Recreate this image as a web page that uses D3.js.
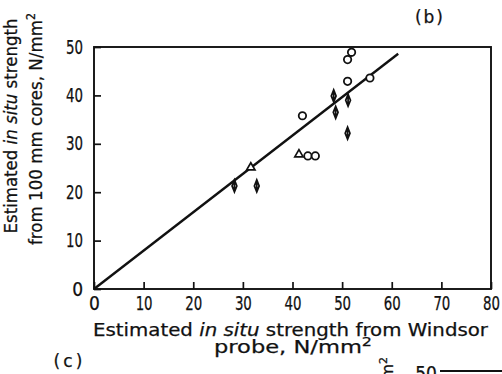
<!DOCTYPE html>
<html>
<head>
<meta charset="utf-8">
<script src="https://cdn.jsdelivr.net/npm/d3@7"></script>
<style>
  html, body { margin: 0; padding: 0; background: #fff; }
  svg { display: block; font-family: "DejaVu Sans", sans-serif; }
  svg text { stroke: #111; stroke-width: 0.25; }
  .axis .domain { display: none; }
  .axis line { stroke: #111; stroke-width: 1.7; }
</style>
</head>
<body>
<svg id="chart" width="502" height="374"></svg>
<script>
// values
const xTicks = [0, 10, 20, 30, 40, 50, 60, 70, 80];
const yTicks = [0, 10, 20, 30, 40, 50];

const circleX = [42.0, 43.1, 44.6, 51.9, 51.1, 51.1, 55.6];
const circleY = [35.8, 27.5, 27.5, 48.9, 47.4, 42.9, 43.6];

const diamondX = [28.3, 32.8, 48.3, 51.2, 48.7, 51.1];
const diamondY = [21.3, 21.3, 39.9, 39.0, 36.5, 32.2];

const triangleX = [31.6, 41.3];
const triangleY = [25.1, 27.8];

const fitX = [0, 61.3];
const fitY = [0, 48.6];

const margin = { top: 47, right: 11, bottom: 85, left: 94 };
const width = 502, height = 374;
const innerWidth = width - margin.left - margin.right;
const innerHeight = height - margin.top - margin.bottom;

const svg = d3.select('#chart');

const x = d3.scaleLinear().domain([0, 80]).range([0, innerWidth]);
const y = d3.scaleLinear().domain([0, 50]).range([innerHeight, 0]);

const g = svg.append('g')
  .attr('transform', `translate(${margin.left},${margin.top})`);

// frame
g.append('rect')
  .attr('width', innerWidth)
  .attr('height', innerHeight)
  .attr('fill', 'none')
  .attr('stroke', '#111')
  .attr('stroke-width', 1.9);

// axes, ticks pointing inward; digits squeezed to look like the narrow print face
const narrow = sel => sel.selectAll('text')
  .attr('fill', '#111')
  .attr('font-size', 19)
  .attr('font-family', '"DejaVu Sans Condensed", "DejaVu Sans", sans-serif')
  .attr('textLength', d => String(d).length > 1 ? 17 : null)
  .attr('lengthAdjust', 'spacingAndGlyphs');

g.append('g')
  .attr('class', 'axis')
  .attr('transform', `translate(0,${innerHeight})`)
  .call(d3.axisBottom(x).tickValues(xTicks).tickSizeInner(-7).tickSizeOuter(0).tickPadding(8))
  .call(narrow);

g.append('g')
  .attr('class', 'axis')
  .call(d3.axisLeft(y).tickValues(yTicks).tickSizeInner(-7).tickSizeOuter(0).tickPadding(11))
  .call(narrow);

// fitted line
const line = d3.line().x(d => x(d[0])).y(d => y(d[1]));
g.append('path')
  .datum(d3.zip(fitX, fitY))
  .attr('d', line)
  .attr('fill', 'none')
  .attr('stroke', '#111')
  .attr('stroke-width', 2.4);

// circles
g.selectAll('.pt-circle')
  .data(d3.zip(circleX, circleY))
  .enter()
  .append('circle')
  .attr('class', 'pt-circle')
  .attr('cx', d => x(d[0]))
  .attr('cy', d => y(d[1]))
  .attr('r', 3.7)
  .attr('fill', '#fff')
  .attr('stroke', '#111')
  .attr('stroke-width', 1.8);

// diamonds (tall, with a vertical stroke through)
const diamondPath = 'M0,-6L2.4,0L0,6L-2.4,0Z M0,-6L0,6';
g.selectAll('.pt-diamond')
  .data(d3.zip(diamondX, diamondY))
  .enter()
  .append('path')
  .attr('class', 'pt-diamond')
  .attr('transform', d => `translate(${x(d[0])},${y(d[1])})`)
  .attr('d', diamondPath)
  .attr('fill', '#fff')
  .attr('stroke', '#111')
  .attr('stroke-width', 1.7);

// triangles
g.selectAll('.pt-triangle')
  .data(d3.zip(triangleX, triangleY))
  .enter()
  .append('path')
  .attr('class', 'pt-triangle')
  .attr('transform', d => `translate(${x(d[0])},${y(d[1])})`)
  .attr('d', d3.symbol().type(d3.symbolTriangle).size(30))
  .attr('fill', '#fff')
  .attr('stroke', '#111')
  .attr('stroke-width', 1.7);

// y axis title, two rotated lines
const yTitle1 = svg.append('text')
  .attr('transform', 'translate(17,126) rotate(-90)')
  .attr('text-anchor', 'middle')
  .attr('font-size', 18)
  .attr('fill', '#111')
  .attr('textLength', 215)
  .attr('lengthAdjust', 'spacingAndGlyphs');
yTitle1.append('tspan').text('Estimated ');
yTitle1.append('tspan').attr('font-style', 'italic').text('in situ');
yTitle1.append('tspan').text(' strength');

const yTitle2 = svg.append('text')
  .attr('transform', 'translate(42,129) rotate(-90)')
  .attr('text-anchor', 'middle')
  .attr('font-size', 18)
  .attr('fill', '#111')
  .attr('textLength', 232)
  .attr('lengthAdjust', 'spacingAndGlyphs');
yTitle2.append('tspan').text('from 100 mm cores, N/mm');
yTitle2.append('tspan').attr('dy', -7).attr('font-size', 12).text('2');

// x axis title, two lines
const xTitle1 = svg.append('text')
  .attr('x', 290.5)
  .attr('y', 336)
  .attr('text-anchor', 'middle')
  .attr('font-size', 17)
  .attr('fill', '#111')
  .attr('textLength', 395)
  .attr('lengthAdjust', 'spacingAndGlyphs');
xTitle1.append('tspan').text('Estimated ');
xTitle1.append('tspan').attr('font-style', 'italic').text('in situ');
xTitle1.append('tspan').text(' strength from Windsor');

const xTitle2 = svg.append('text')
  .attr('x', 293)
  .attr('y', 353)
  .attr('text-anchor', 'middle')
  .attr('font-size', 17)
  .attr('fill', '#111')
  .attr('textLength', 158)
  .attr('lengthAdjust', 'spacingAndGlyphs');
xTitle2.append('tspan').text('probe,  N/mm');
xTitle2.append('tspan').attr('dy', -7).attr('font-size', 12).text('2');

// panel labels
svg.append('text')
  .attr('x', 429).attr('y', 23)
  .attr('text-anchor', 'middle')
  .attr('font-size', 17)
  .attr('fill', '#111')
  .attr('textLength', 28)
  .text('(b)');

svg.append('text')
  .attr('x', 68).attr('y', 367)
  .attr('text-anchor', 'middle')
  .attr('font-size', 17)
  .attr('fill', '#111')
  .attr('textLength', 29)
  .text('(c)');

// top edge of the next panel, cut off by the page
svg.append('text')
  .attr('transform', 'translate(393,357) rotate(-90)')
  .attr('text-anchor', 'end')
  .attr('font-size', 16)
  .attr('fill', '#111')
  .html('N/mm<tspan dy="-6" font-size="11">2</tspan>');

svg.append('text')
  .attr('x', 437).attr('y', 380)
  .attr('text-anchor', 'end')
  .attr('font-size', 19)
  .attr('fill', '#111')
  .attr('font-family', '"DejaVu Sans Condensed", "DejaVu Sans", sans-serif')
  .text('50');

svg.append('line')
  .attr('x1', 440).attr('x2', 502)
  .attr('y1', 371).attr('y2', 371)
  .attr('stroke', '#111')
  .attr('stroke-width', 1.8);
</script>
</body>
</html>
